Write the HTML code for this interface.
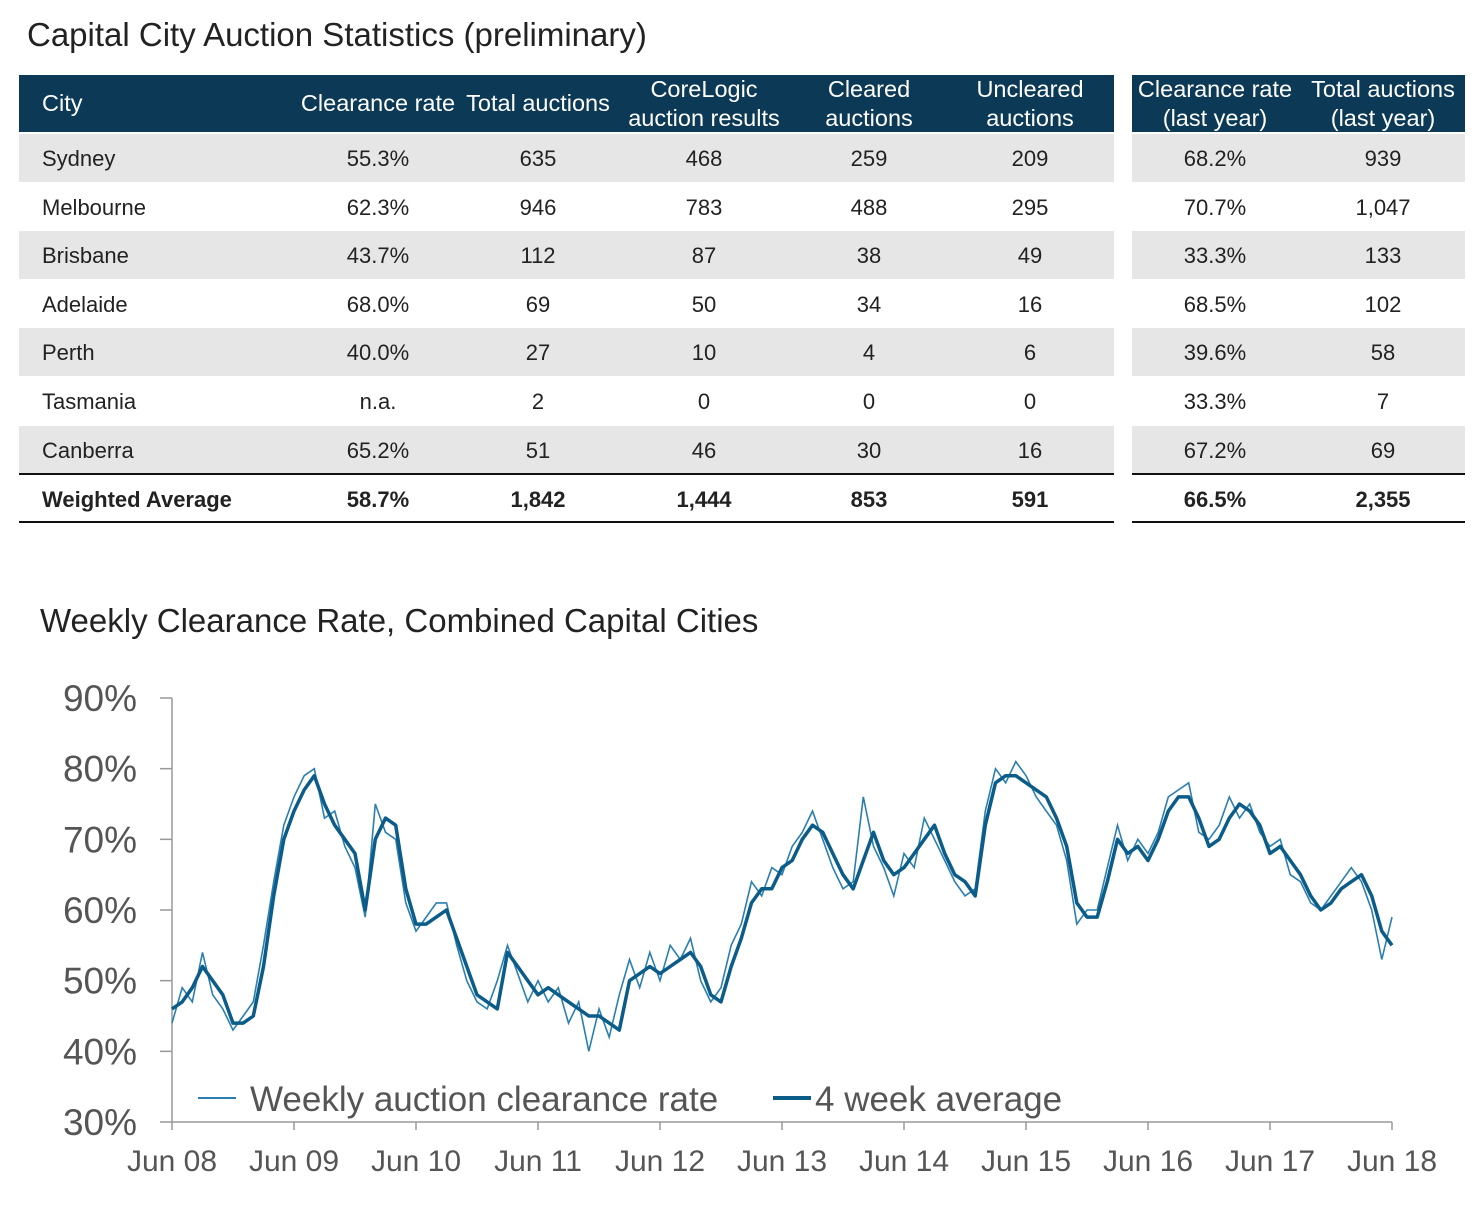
<!DOCTYPE html>
<html><head><meta charset="utf-8">
<style>
body{margin:0;background:#fff;font-family:"Liberation Sans",sans-serif;}
#wrap{position:relative;width:1478px;height:1212px;overflow:hidden;}
.t{position:absolute;white-space:nowrap;}
.cell{position:absolute;text-align:center;font-size:22px;color:#222;transform:translateX(-50%);white-space:nowrap;}
.hd{position:absolute;text-align:center;font-size:23.5px;color:#fff;line-height:29px;transform:translateX(-50%);white-space:nowrap;}
.row{position:absolute;height:48px;background:#e6e6e6;}
</style></head><body>
<div id="wrap">
<div class="t" style="left:27px;top:16px;font-size:33px;color:#222;">Capital City Auction Statistics (preliminary)</div>
<div id="tbl"></div>
<div class="t" style="left:40px;top:602px;font-size:33px;color:#222;">Weekly Clearance Rate, Combined Capital Cities</div>
<svg id="chart" width="1478" height="1212" style="position:absolute;left:0;top:0"></svg>
</div>
<script>
const cities=["Sydney","Melbourne","Brisbane","Adelaide","Perth","Tasmania","Canberra"];
const clearRate=["55.3%","62.3%","43.7%","68.0%","40.0%","n.a.","65.2%"];
const totalAuc=["635","946","112","69","27","2","51"];
const coreResults=["468","783","87","50","10","0","46"];
const cleared=["259","488","38","34","4","0","30"];
const uncleared=["209","295","49","16","6","0","16"];
const lyRate=["68.2%","70.7%","33.3%","68.5%","39.6%","33.3%","67.2%"];
const lyTotal=["939","1,047","133","102","58","7","69"];
const avgRow=["58.7%","1,842","1,444","853","591","66.5%","2,355"];

const tbl=document.getElementById('tbl');
function add(html){tbl.insertAdjacentHTML('beforeend',html);}
add('<div style="position:absolute;left:19px;top:75px;width:1095px;height:57px;background:#0c3a56"></div>');
add('<div style="position:absolute;left:1132px;top:75px;width:333px;height:57px;background:#0c3a56"></div>');
const cx=[378,538,704,869,1030,1215,1383];
const hdrs=[["Clearance rate"],["Total auctions"],["CoreLogic","auction results"],["Cleared","auctions"],["Uncleared","auctions"],["Clearance rate","(last year)"],["Total auctions","(last year)"]];
add('<div class="t" style="left:42px;top:90px;font-size:23.5px;color:#fff">City</div>');
hdrs.forEach((h,i)=>{const top=h.length==1?89:75;add('<div class="hd" style="left:'+cx[i]+'px;top:'+top+'px">'+h.join('<br>')+'</div>');});
const cols=[clearRate,totalAuc,coreResults,cleared,uncleared,lyRate,lyTotal];
cities.forEach((c,r)=>{
  const top=134+r*48.6;
  if(r%2==0){add('<div class="row" style="left:19px;top:'+top+'px;width:1095px"></div>');add('<div class="row" style="left:1132px;top:'+top+'px;width:333px"></div>');}
  add('<div class="t" style="left:42px;top:'+(top+12)+'px;font-size:22px;color:#222">'+c+'</div>');
  cols.forEach((col,i)=>add('<div class="cell" style="left:'+cx[i]+'px;top:'+(top+12)+'px">'+col[r]+'</div>'));
});
add('<div style="position:absolute;left:19px;top:473px;width:1095px;height:2px;background:#111"></div><div style="position:absolute;left:1132px;top:473px;width:333px;height:2px;background:#111"></div>');
add('<div style="position:absolute;left:19px;top:521px;width:1095px;height:2px;background:#111"></div><div style="position:absolute;left:1132px;top:521px;width:333px;height:2px;background:#111"></div>');
add('<div class="t" style="left:42px;top:487px;font-size:22px;font-weight:bold;color:#222">Weighted Average</div>');
avgRow.forEach((v,i)=>add('<div class="cell" style="left:'+cx[i]+'px;top:487px;font-weight:bold">'+v+'</div>'));
</script>
<script>
const yTicks=[30,40,50,60,70,80,90];
const xLabels=["Jun 08","Jun 09","Jun 10","Jun 11","Jun 12","Jun 13","Jun 14","Jun 15","Jun 16","Jun 17","Jun 18"];
const avg4=[46,47,49,52,50,48,44,44,45,52,62,70,
74,77,79,75,72,70,68,60,70,73,72,63,
58,58,59,60,56,52,48,47,46,54,52,50,
48,49,48,47,46,45,45,44,43,50,51,52,
51,52,53,54,52,48,47,52,56,61,63,63,
66,67,70,72,71,68,65,63,67,71,67,65,
66,68,70,72,68,65,64,62,72,78,79,79,
78,77,76,73,69,61,59,59,64,70,68,69,
67,70,74,76,76,73,69,70,73,75,74,72,
68,69,67,65,62,60,61,63,64,65,62,57,55];
const weekly=[44,49,47,54,48,46,43,45,47,55,64,72,
76,79,80,73,74,69,66,59,75,71,70,61,
57,59,61,61,55,50,47,46,50,55,51,47,
50,47,49,44,47,40,46,42,48,53,49,54,
50,55,53,56,50,47,49,55,58,64,62,66,
65,69,71,74,70,66,63,64,76,69,66,62,
68,66,73,70,67,64,62,63,74,80,78,81,
79,76,74,72,67,58,60,60,66,72,67,70,
68,71,76,77,78,71,70,72,76,73,75,71,
69,70,65,64,61,60,62,64,66,64,60,53,59];
const NS='http://www.w3.org/2000/svg';
const svg=document.getElementById('chart');
const X0=172,X1=1392,Y0=1122,Y1=698;
const xs=m=>X0+(X1-X0)*m/120;
const ys=v=>Y0-(Y0-Y1)*(v-30)/60;
function el(t,a,txt){const e=document.createElementNS(NS,t);for(const k in a)e.setAttribute(k,a[k]);if(txt!=null)e.textContent=txt;svg.appendChild(e);return e;}
let e;
e=el('line',{x1:X0,y1:Y1,x2:X0,y2:Y0,stroke:'#999','stroke-width':1.5});


e=el('line',{x1:X0,y1:Y0,x2:X1,y2:Y0,stroke:'#999','stroke-width':1.5});


yTicks.forEach(v=>{
  el('line',{x1:X0-12,y1:ys(v),x2:X0,y2:ys(v),stroke:'#999','stroke-width':1.5});
  e=el('text',{x:137,y:ys(v)+13,'text-anchor':'end','font-size':37,fill:'#555','font-family':'Liberation Sans'},v+'%');
  
  
});
xLabels.forEach((l,i)=>{
  const x=xs(i*12);
  el('line',{x1:x,y1:Y0,x2:x,y2:Y0+8,stroke:'#999','stroke-width':1.5});
  e=el('text',{x:x,y:1171,'text-anchor':'middle','font-size':30,fill:'#555','font-family':'Liberation Sans'},l);
  
  
});
e=el('path',{d:weekly.map((v,i)=>(i?'L':'M')+xs(i).toFixed(1)+' '+ys(v).toFixed(1)).join(''),fill:'none',stroke:'#2a7fb0','stroke-width':1.6});


e=el('path',{d:avg4.map((v,i)=>(i?'L':'M')+xs(i).toFixed(1)+' '+ys(v).toFixed(1)).join(''),fill:'none',stroke:'#0b5c88','stroke-width':3.5,'stroke-linejoin':'round'});


el('line',{x1:198,y1:1098,x2:236,y2:1098,stroke:'#2a7fb0','stroke-width':2});
e=el('text',{x:250,y:1111,'font-size':35,fill:'#555','font-family':'Liberation Sans'},'Weekly auction clearance rate');


el('line',{x1:773,y1:1098,x2:811,y2:1098,stroke:'#0b5c88','stroke-width':4});
e=el('text',{x:815,y:1111,'font-size':35,fill:'#555','font-family':'Liberation Sans'},'4 week average');


</script>
</body></html>
